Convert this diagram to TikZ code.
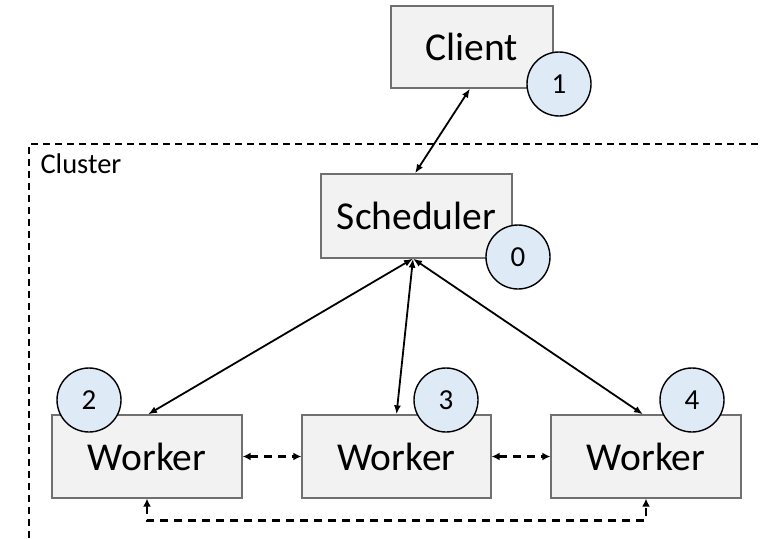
\documentclass[tikz,border=0pt]{standalone}
\usepackage{fontspec}
\setmainfont{Carlito}
\usetikzlibrary{arrows.meta}
\definecolor{boxfill}{HTML}{F2F2F2}
\definecolor{boxdraw}{HTML}{707070}
\definecolor{circfill}{HTML}{DEEAF6}
\begin{document}
\begin{tikzpicture}[x=1pt,y=-1pt,
  box/.style={draw=boxdraw,fill=boxfill,line width=1.3pt,inner sep=0pt,
    font=\fontsize{39.5}{42}\selectfont},
  badge/.style={circle,draw=black,fill=circfill,line width=1.4pt,minimum size=64pt,
    inner sep=0pt,font=\fontsize{29}{31}\selectfont},
  link/.style={line width=1.8pt,{Latex[length=9pt,width=7pt]}-{Latex[length=9pt,width=7pt]}},
  dlink/.style={line width=2.6pt,dash pattern=on 8pt off 6pt,{Latex[length=8pt,width=8pt]}-{Latex[length=8pt,width=8pt]}},
  cluster/.style={line width=1.6pt,dash pattern=on 7pt off 5pt}]
\useasboundingbox (0,0) rectangle (760,538);
\fill[white] (0,0) rectangle (760,538);
% cluster border
\draw[cluster] (29,538) -- (29,144) -- (760,144);
\node[anchor=north west,font=\fontsize{28.5}{30}\selectfont] (cl) at (37,150) {Cluster};
% boxes
\node[box,minimum width=162pt,minimum height=82pt] (client) at (472,47) {Client};
\node[box,minimum width=191pt,minimum height=84pt] (sched) at (416.5,216) {Scheduler};
\node[box,minimum width=190pt,minimum height=83pt] (w1) at (147,456.5) {Worker};
\node[box,minimum width=189pt,minimum height=83pt] (w2) at (396.5,456.5) {Worker};
\node[box,minimum width=190pt,minimum height=83pt] (w3) at (646,456.5) {Worker};
% badges
\node[badge] (b1) at (559,84) {1};
\node[badge] (b0) at (518,257) {0};
\node[badge] (b2) at (89,400) {2};
\node[badge] (b3) at (446,400) {3};
\node[badge] (b4) at (692,400) {4};
% connectors
\draw[link] ([xshift=-2pt]client.south) -- ([xshift=-1.5pt]sched.north);
\draw[link] ([xshift=-3.5pt]sched.south) -- ([xshift=1pt]w1.north);
\draw[link] ([xshift=-3.5pt]sched.south) -- (w2.north);
\draw[link] ([xshift=-3.5pt]sched.south) -- ([xshift=-3pt]w3.north);
\draw[dlink] (w1.east) -- (w2.west);
\draw[dlink] (w2.east) -- (w3.west);
\draw[dlink] (w1.south) -- ++(0,22) -| (w3.south);
\end{tikzpicture}
\end{document}
